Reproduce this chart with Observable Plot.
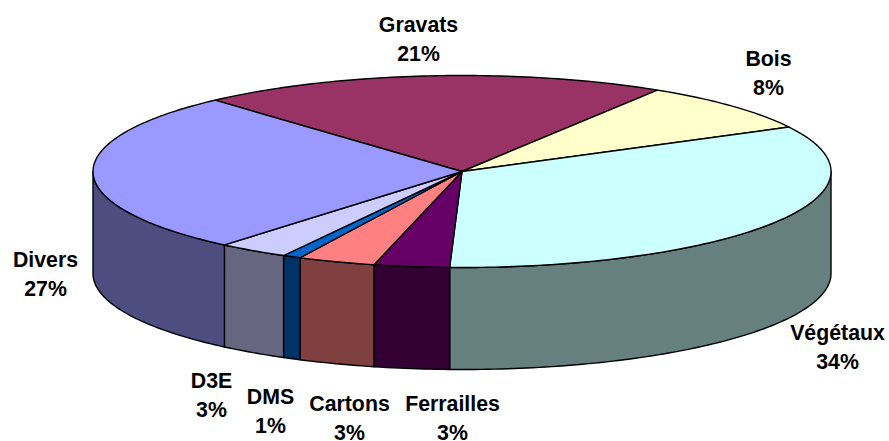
<!DOCTYPE html>
<html><head><meta charset="utf-8">
<style>html,body{margin:0;padding:0;background:#fff}svg{display:block}</style>
<script src="https://cdn.jsdelivr.net/npm/d3@7"></script>
<script src="https://cdn.jsdelivr.net/npm/@observablehq/plot@0.6"></script>
</head><body><div id="chart"></div>
<script>
const names = ["Gravats","Bois","Végétaux","Ferrailles","Cartons","DMS","D3E","Divers"];
const shares = [20.55,8.45,33.2,3.3,3.4,0.8,3.1,27.2];
const percentLabels = ["21%","8%","34%","3%","3%","1%","3%","27%"];
const topColors = ["#993366","#FFFFCC","#CCFFFF","#660066","#FF8080","#0066CC","#CCCCFF","#9999FF"];
const sideColors = ["#4D1A33","#808066","#668080","#330033","#804040","#003366","#666680","#4D4D80"];
const labelX = [418,768,837,452,349,270,211,45];
const labelY = [36.5,71.2,345,416,416,409.2,393.2,272];

const W = 889, H = 441;
const cx = 461.5, cy = 171, rx = 369, ry = 96, depth = 102, startAngle = -42;
const pt = (a, dy = 0) => {
  const r = a * Math.PI / 180;
  return {px: cx + rx * Math.sin(r), py: cy - ry * Math.cos(r) + dy};
};
const arc = (a0, a1, dy = 0) => {
  const n = Math.max(2, Math.ceil(Math.abs(a1 - a0)));
  return d3.range(n + 1).map(i => pt(a0 + (a1 - a0) * i / n, dy));
};
let acc = startAngle;
const slices = names.map((name, i) => {
  const a0 = acc; acc += shares[i] * 3.6;
  return {name, i, a0, a1: acc};
});
const tops = [], sides = [];
for (const s of slices) {
  const c = {px: cx, py: cy};
  const ring = [c, ...arc(s.a0, s.a1), c];
  ring.forEach(p => tops.push({...p, name: s.name, color: topColors[s.i]}));
  const lo = Math.max(s.a0, 90), hi = Math.min(s.a1, 270);
  if (hi > lo) {
    const front = arc(lo, hi), back = arc(hi, lo, depth);
    [...front, ...back, front[0]].forEach(p => sides.push({...p, name: s.name, color: sideColors[s.i]}));
  }
}
const labels = names.map((name, i) => ({text: name + "\n" + percentLabels[i], x: labelX[i], y: labelY[i]}));

const line = d => Plot.line(d, {x: "px", y: "py", z: "name", fill: "color", stroke: "#000", strokeWidth: 1.4, strokeLinejoin: "round", curve: "linear"});
const chart = Plot.plot({
  width: W, height: H, margin: 0,
  style: {background: "#fff"},
  x: {domain: [0, W], range: [0, W], axis: null},
  y: {domain: [0, H], range: [0, H], axis: null},
  color: {type: "identity"},
  marks: [
    line(sides),
    line(tops),
    Plot.text(labels, {x: "x", y: "y", text: "text", fill: "#000", fontSize: 21.3, fontWeight: "bold",
      fontFamily: "Liberation Sans, Arial, sans-serif", lineHeight: 1.36, textAnchor: "middle"})
  ]
});
document.getElementById("chart").append(chart);
</script></body></html>
